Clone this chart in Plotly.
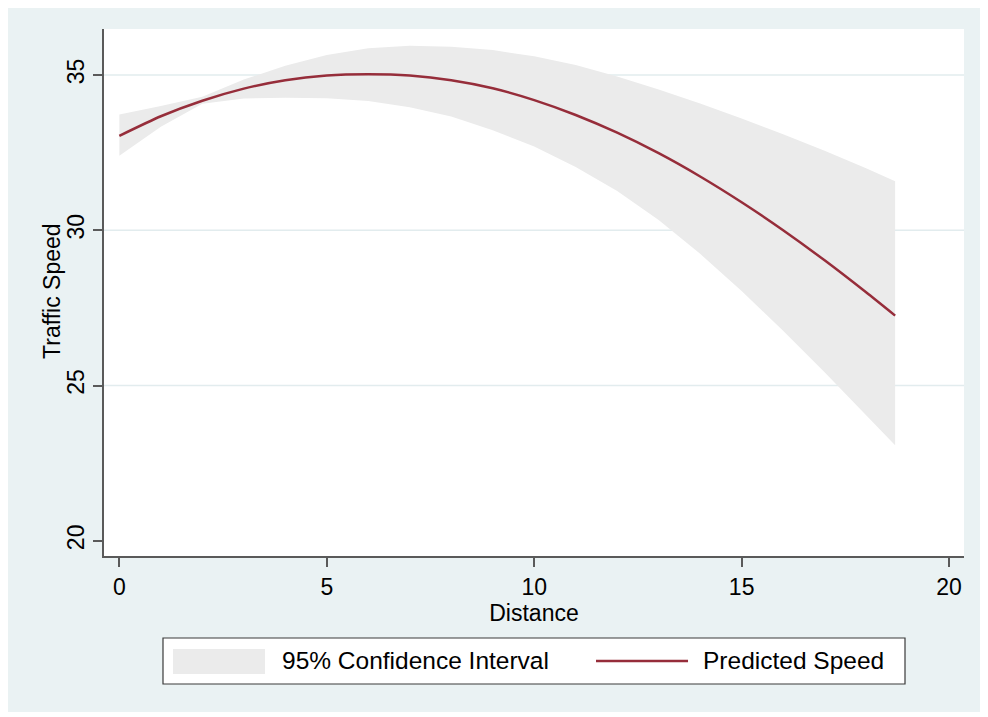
import plotly.graph_objects as go

# ---- data ----
distance = [0, 1, 2, 3, 4, 5, 6, 7, 8, 9, 10, 11, 12, 13, 14, 15, 16, 17, 18, 18.7]
predicted = [33.04, 33.67, 34.17, 34.56, 34.83, 34.98, 35.02, 34.98, 34.83, 34.57,
             34.19, 33.71, 33.14, 32.48, 31.73, 30.90, 30.00, 29.03, 28.00, 27.25]
ci_upper = [33.73, 34.00, 34.30, 34.85, 35.30, 35.64, 35.86, 35.94, 35.91, 35.80,
            35.60, 35.32, 34.95, 34.53, 34.08, 33.60, 33.09, 32.56, 32.00, 31.58]
ci_lower = [32.40, 33.33, 34.07, 34.24, 34.27, 34.25, 34.16, 33.96, 33.66, 33.22,
            32.70, 32.04, 31.26, 30.33, 29.24, 28.04, 26.76, 25.43, 24.06, 23.08]

x_ticks = [0, 5, 10, 15, 20]
y_ticks = [20, 25, 30, 35]
grid_vals = [25, 30, 35]
legend_labels = ["95% Confidence Interval", "Predicted Speed"]

LINE = "#962d3a"
FILL = "#ebebeb"
BG = "#eaf2f3"
AX = "#5a5a5a"
FONT = "Liberation Sans, Arial, sans-serif"
FS = 23
LFS = 24.5

fig = go.Figure()
fig.add_trace(go.Scatter(
    x=distance + distance[::-1],
    y=ci_upper + ci_lower[::-1],
    fill="toself", fillcolor=FILL, mode="lines",
    line=dict(width=0, color=FILL),
    name=legend_labels[0], hoverinfo="skip", showlegend=False,
))
fig.add_trace(go.Scatter(
    x=distance, y=predicted, mode="lines",
    line=dict(color=LINE, width=2.5, shape="spline", smoothing=0.6),
    name=legend_labels[1], showlegend=False,
))

shapes = [
    # outer bluish-gray background
    dict(type="rect", xref="paper", yref="paper", x0=-0.1116, x1=1.0186,
         y0=-0.296, y1=1.0398, fillcolor=BG, line=dict(width=0), layer="below"),
    # white plot region
    dict(type="rect", xref="paper", yref="paper", x0=0, x1=1, y0=0, y1=1,
         fillcolor="white", line=dict(width=0), layer="below"),
    # legend box
    dict(type="rect", xref="paper", yref="paper", x0=0.0686, x1=0.9314,
         y0=-0.2429, y1=-0.1556, fillcolor="white",
         line=dict(color="#3a3a3a", width=1.2)),
    # legend swatch: CI
    dict(type="rect", xref="paper", yref="paper", x0=0.0802, x1=0.1872,
         y0=-0.2239, y1=-0.1765, fillcolor=FILL, line=dict(width=0)),
    # legend swatch: line
    dict(type="line", xref="paper", yref="paper", x0=0.5721, x1=0.6791,
         y0=-0.1992, y1=-0.1992, line=dict(color=LINE, width=2.5)),
]
for g in grid_vals:
    shapes.append(dict(type="line", xref="paper", yref="y", x0=0, x1=1, y0=g, y1=g,
                       line=dict(color="#e2ecee", width=1.5), layer="below"))

annotations = [
    dict(text=legend_labels[0], xref="paper", yref="paper", x=0.205, y=-0.1992,
         xanchor="left", yanchor="middle", showarrow=False, font=dict(size=LFS)),
    dict(text=legend_labels[1], xref="paper", yref="paper", x=0.6945, y=-0.1992,
         xanchor="left", yanchor="middle", showarrow=False, font=dict(size=LFS)),
    dict(text="Traffic Speed", xref="paper", yref="paper", x=-0.0605, y=0.503,
         xanchor="center", yanchor="middle", textangle=-90, showarrow=False,
         font=dict(size=FS)),
]

fig.update_layout(
    width=980, height=709,
    margin=dict(l=96, r=24, t=21, b=161),
    paper_bgcolor="white", plot_bgcolor="white",
    font=dict(family=FONT, size=FS, color="black"),
    shapes=shapes, annotations=annotations,
    showlegend=False,
    xaxis=dict(
        range=[-0.37, 20.36], tickvals=x_ticks, showgrid=False, zeroline=False,
        showline=True, linecolor=AX, linewidth=2, ticks="outside", ticklen=9,
        tickwidth=2, tickcolor=AX, tickfont=dict(size=FS), ticklabelstandoff=0,
        title=dict(text="Distance", font=dict(size=FS), standoff=1),
    ),
    yaxis=dict(
        range=[19.51, 36.48], tickvals=y_ticks, showgrid=False, zeroline=False,
        showline=True, linecolor=AX, linewidth=2, ticks="outside", ticklen=9,
        tickwidth=2, tickcolor=AX, tickangle=-90, tickfont=dict(size=FS),
    ),
)

fig.write_html("out.html")
